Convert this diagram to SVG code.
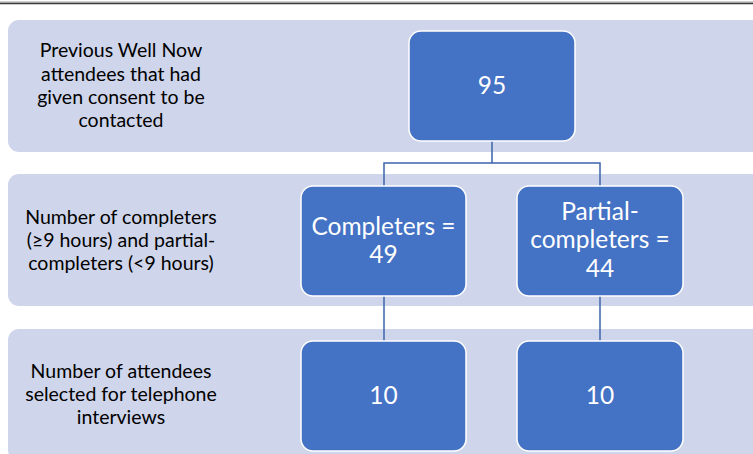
<svg xmlns="http://www.w3.org/2000/svg" width="753" height="454" viewBox="0 0 753 454">
<style>
.band{fill:#CFD5EA}
.box{fill:#4472C4;stroke:#FFFFFF;stroke-width:1.5}
.lbl{font-family:Lato,"Liberation Sans",sans-serif;font-size:19.5px;fill:#000;text-anchor:middle}
.num{font-family:Lato,"Liberation Sans",sans-serif;font-size:24.5px;fill:#FFFFFF;text-anchor:middle}
.conn{fill:none;stroke:#3D64AA;stroke-width:1.5}
</style>
<rect width="753" height="454" fill="#FFFFFF"/>
<line x1="0" y1="2" x2="753" y2="2" stroke="#9A9A9A" stroke-width="1"/>
<line x1="0" y1="3.5" x2="753" y2="3.5" stroke="#3A3A3A" stroke-width="1.5"/>
<g id="band1"><rect class="band" x="8" y="20" width="780" height="132" rx="11"/>
<text class="lbl"><tspan x="121" y="57">Previous Well Now</tspan><tspan x="121" y="81">attendees that had</tspan><tspan x="121" y="104">given consent to be</tspan><tspan x="121" y="127">contacted</tspan></text></g>
<g id="band2"><rect class="band" x="8" y="174" width="780" height="132" rx="11"/>
<text class="lbl"><tspan x="121" y="224">Number of completers</tspan><tspan x="121" y="247">(≥9 hours) and partial-</tspan><tspan x="121" y="270">completers (&lt;9 hours)</tspan></text></g>
<g id="band3"><rect class="band" x="8" y="329" width="780" height="132" rx="11"/>
<text class="lbl"><tspan x="121" y="378">Number of attendees</tspan><tspan x="121" y="401">selected for telephone</tspan><tspan x="121" y="424">interviews</tspan></text></g>
<g id="connectors">
<path class="conn" d="M492 141 V163 M384 186 V163 H600 V186 M384 296 V341 M600 296 V341"/>
</g>
<g id="node95"><rect class="box" x="409" y="31" width="166" height="110" rx="12"/>
<text class="num" x="492" y="94">95</text></g>
<g id="nodeCompleters"><rect class="box" x="301" y="186" width="165" height="110" rx="12"/>
<text class="num"><tspan x="383.5" y="235">Completers =</tspan><tspan x="383.5" y="263">49</tspan></text></g>
<g id="nodePartial"><rect class="box" x="517" y="186" width="166" height="110" rx="12"/>
<text class="num"><tspan x="600" y="220">Partial-</tspan><tspan x="600" y="248">completers =</tspan><tspan x="600" y="277">44</tspan></text></g>
<g id="node10a"><rect class="box" x="301" y="341" width="165" height="110" rx="12"/>
<text class="num" x="383.5" y="404">10</text></g>
<g id="node10b"><rect class="box" x="517" y="341" width="166" height="110" rx="12"/>
<text class="num" x="600" y="404">10</text></g>
</svg>
